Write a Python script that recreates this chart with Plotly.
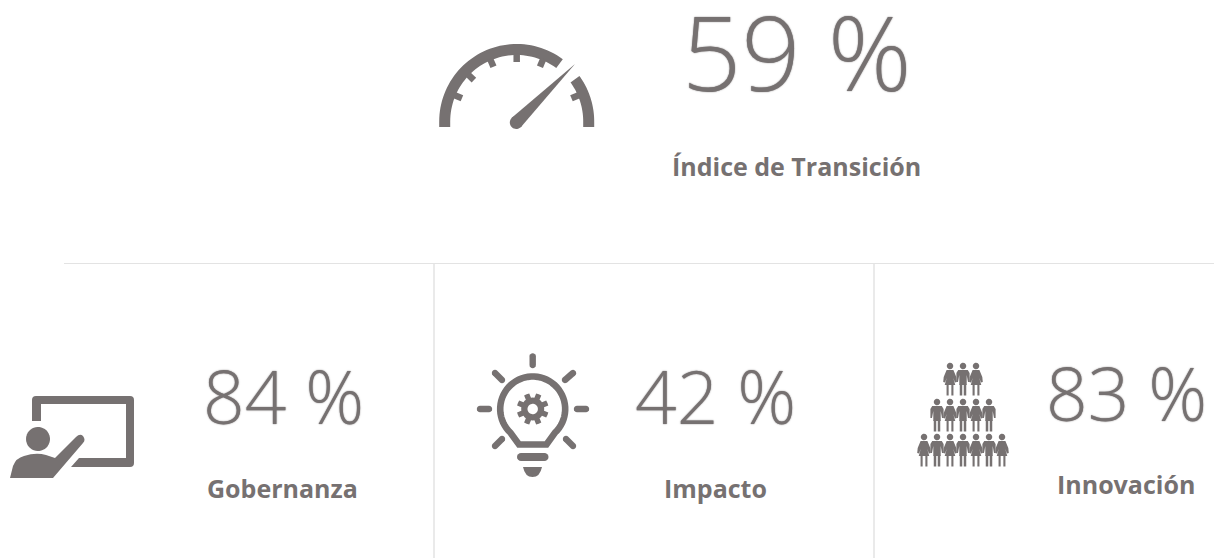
import numpy as np
import plotly.graph_objects as go

W, H = 1214, 558
INK = "#767171"
RULE = "#e3e3e3"

kpi_labels = ["Índice de Transición", "Gobernanza", "Impacto", "Innovación"]
kpi_values = [59, 84, 42, 83]
value_x = [797, 283, 715, 1126]
value_y = [50, 395, 395, 392]
value_size = [104, 73, 73, 73]
value_box = [100, 100, 100, 100]
label_x = [796, 282, 715, 1126]
label_y = [166, 488, 488, 484]
label_size = [25, 25, 25, 25]


def poly(pts, close=True):
    s = "M " + " L ".join(f"{x:.2f},{y:.2f}" for x, y in pts)
    return s + (" Z" if close else "")


def arc(cx, cy, r, a0, a1, n=50):
    t = np.radians(np.linspace(a0, a1, n))
    return [(cx + r * np.cos(v), cy - r * np.sin(v)) for v in t]


shapes = []


def fill(path):
    shapes.append(dict(type="path", path=path, fillcolor=INK, line=dict(width=0), layer="above"))


def stroke(x0, y0, x1, y1, w, color=INK):
    shapes.append(dict(type="path", path=poly([(x0, y0), (x1, y1)], False),
                       line=dict(color=color, width=w), layer="above"))


def capsule(x0, y0, x1, y1, w):
    ang = np.degrees(np.arctan2(-(y1 - y0), x1 - x0))
    fill(poly(arc(x1, y1, w / 2, ang - 90, ang + 90, 9) + arc(x0, y0, w / 2, ang + 90, ang + 270, 9)))


def circle(cx, cy, r, color=INK):
    shapes.append(dict(type="path", path=poly(arc(cx, cy, r, 0, 360, 40)),
                       fillcolor=color, line=dict(width=0), layer="above"))


# separators
shapes.append(dict(type="line", x0=64, x1=1214, y0=263.5, y1=263.5, line=dict(color=RULE, width=1)))
for vx in (434, 874):
    shapes.append(dict(type="line", x0=vx, x1=vx, y0=264, y1=558, line=dict(color=RULE, width=1.5)))

# gauge
gx, gy, ro, ri = 516.7, 121.5, 77.5, 66.5
fill(poly([(gx - ro, 127)] + arc(gx, gy, ro, 180, 53.5) + arc(gx, gy, ri, 53.5, 180) + [(gx - ri, 127)]))
fill(poly(arc(gx, gy, ro, 36, 0) + [(gx + ro, 127), (gx + ri, 127)] + arc(gx, gy, ri, 0, 36)))
for ang in (157, 136, 113, 90, 67, 23):
    c, s = np.cos(np.radians(ang)), np.sin(np.radians(ang))
    stroke(gx + 68 * c, gy - 68 * s, gx + 59.5 * c, gy - 59.5 * s, 6.5)
circle(516.3, 122.5, 6.5)
fill(poly([(575, 64), (511.5, 118), (521, 127)]))

# presenter
fill("M 32,421 L 32,400 Q 32,396 36,396 L 130,396 Q 134,396 134,400 L 134,463 Q 134,467 130,467 "
     "L 71,467 L 79,458 L 126,458 L 126,404 L 41,404 L 41,421 Z")
circle(38, 439, 12)
fill("M 10,478 L 13,466 Q 16,458 24,456 Q 36,452 46,455 L 55,458 L 76,437 Q 80,433 83,436 "
     "Q 86,440 83,443 L 53,478 Z")

# bulb
bx, by, br = 532.7, 409, 32.5
outline = arc(bx, by, br, -47, 227) + [(519, 444.5), (546.5, 444.5)]
shapes.append(dict(type="path", path=poly(outline, True), line=dict(color=INK, width=6.6), layer="above"))
for x0, y0, x1, y1 in [(532.7, 356.5, 532.7, 365), (480, 409, 489, 409), (577, 409, 586, 409),
                       (495, 373, 502, 380), (573, 373, 565, 380),
                       (495, 446, 502, 439), (573, 446, 566, 439)]:
    capsule(x0, y0, x1, y1, 6.4)
capsule(521, 457, 544.5, 457, 8)
fill("M 523,467 L 542,467 Q 540,477 532.5,477 Q 525,477 523,467 Z")
teeth = []
for k in range(8):
    c0 = 22.5 + k * 45
    teeth += arc(bx, by, 16, c0 - 10, c0 + 10, 3) + arc(bx, by, 11.5, c0 + 14, c0 + 31, 3)
fill(poly(teeth))
circle(bx, by, 5.2, "#ffffff")


# people
def person(cx, top, female):
    circle(cx, top + 3, 3.2)
    if female:
        fill(poly([(cx - 3.4, top + 7), (cx + 3.4, top + 7), (cx + 6.3, top + 14), (cx + 6.8, top + 19),
                   (cx + 5, top + 19.5), (cx + 3.2, top + 15), (cx + 5.3, top + 22), (cx - 5.3, top + 22),
                   (cx - 3.2, top + 15), (cx - 5, top + 19.5), (cx - 6.8, top + 19), (cx - 6.3, top + 14)]))
        for d in (-2.4, 2.4):
            stroke(cx + d, top + 21, cx + d, top + 32.5, 2.1)
    else:
        fill(poly([(cx - 4.8, top + 7), (cx + 4.8, top + 7), (cx + 6.6, top + 10), (cx + 6.6, top + 19),
                   (cx + 5, top + 19), (cx + 3.7, top + 12), (cx + 3.7, top + 22), (cx - 3.7, top + 22),
                   (cx - 3.7, top + 12), (cx - 5, top + 19), (cx - 6.6, top + 19), (cx - 6.6, top + 10)]))
        for d in (-2, 2):
            stroke(cx + d, top + 21, cx + d, top + 32.5, 2.5)


for top, n in ((363, 3), (399, 5), (434, 7)):
    for i in range(n):
        person(963 + (i - (n - 1) / 2) * 13, top, i % 2 == 0 if n != 5 else i % 2 == 1)

annotations = []
for lab, val, vx, vy, vs, vb, lx, ly, ls in zip(kpi_labels, kpi_values, value_x, value_y, value_size, value_box,
                                                label_x, label_y, label_size):
    annotations.append(dict(x=vx, y=vy, text=f"{val} %", showarrow=False, xanchor="center", yanchor="middle",
                            height=vb,
                            font=dict(family="Open Sans", size=vs, color=INK, weight=300,
                                      shadow=f"0 0 1.5px {INK}")))
    annotations.append(dict(x=lx, y=ly, text=lab, showarrow=False, xanchor="center", yanchor="middle",
                            font=dict(family="Open Sans", size=ls, color=INK, weight=700)))

fig = go.Figure()
fig.update_layout(
    width=W, height=H, margin=dict(l=0, r=0, t=0, b=0),
    paper_bgcolor="white", plot_bgcolor="white", showlegend=False,
    xaxis=dict(range=[0, W], visible=False, fixedrange=True),
    yaxis=dict(range=[H, 0], visible=False, fixedrange=True),
    shapes=shapes, annotations=annotations,
)
fig.write_html("out.html", config=dict(displayModeBar=False),
               post_script="document.documentElement.style.margin='0';document.body.style.margin='0';document.body.style.overflow='hidden';")
